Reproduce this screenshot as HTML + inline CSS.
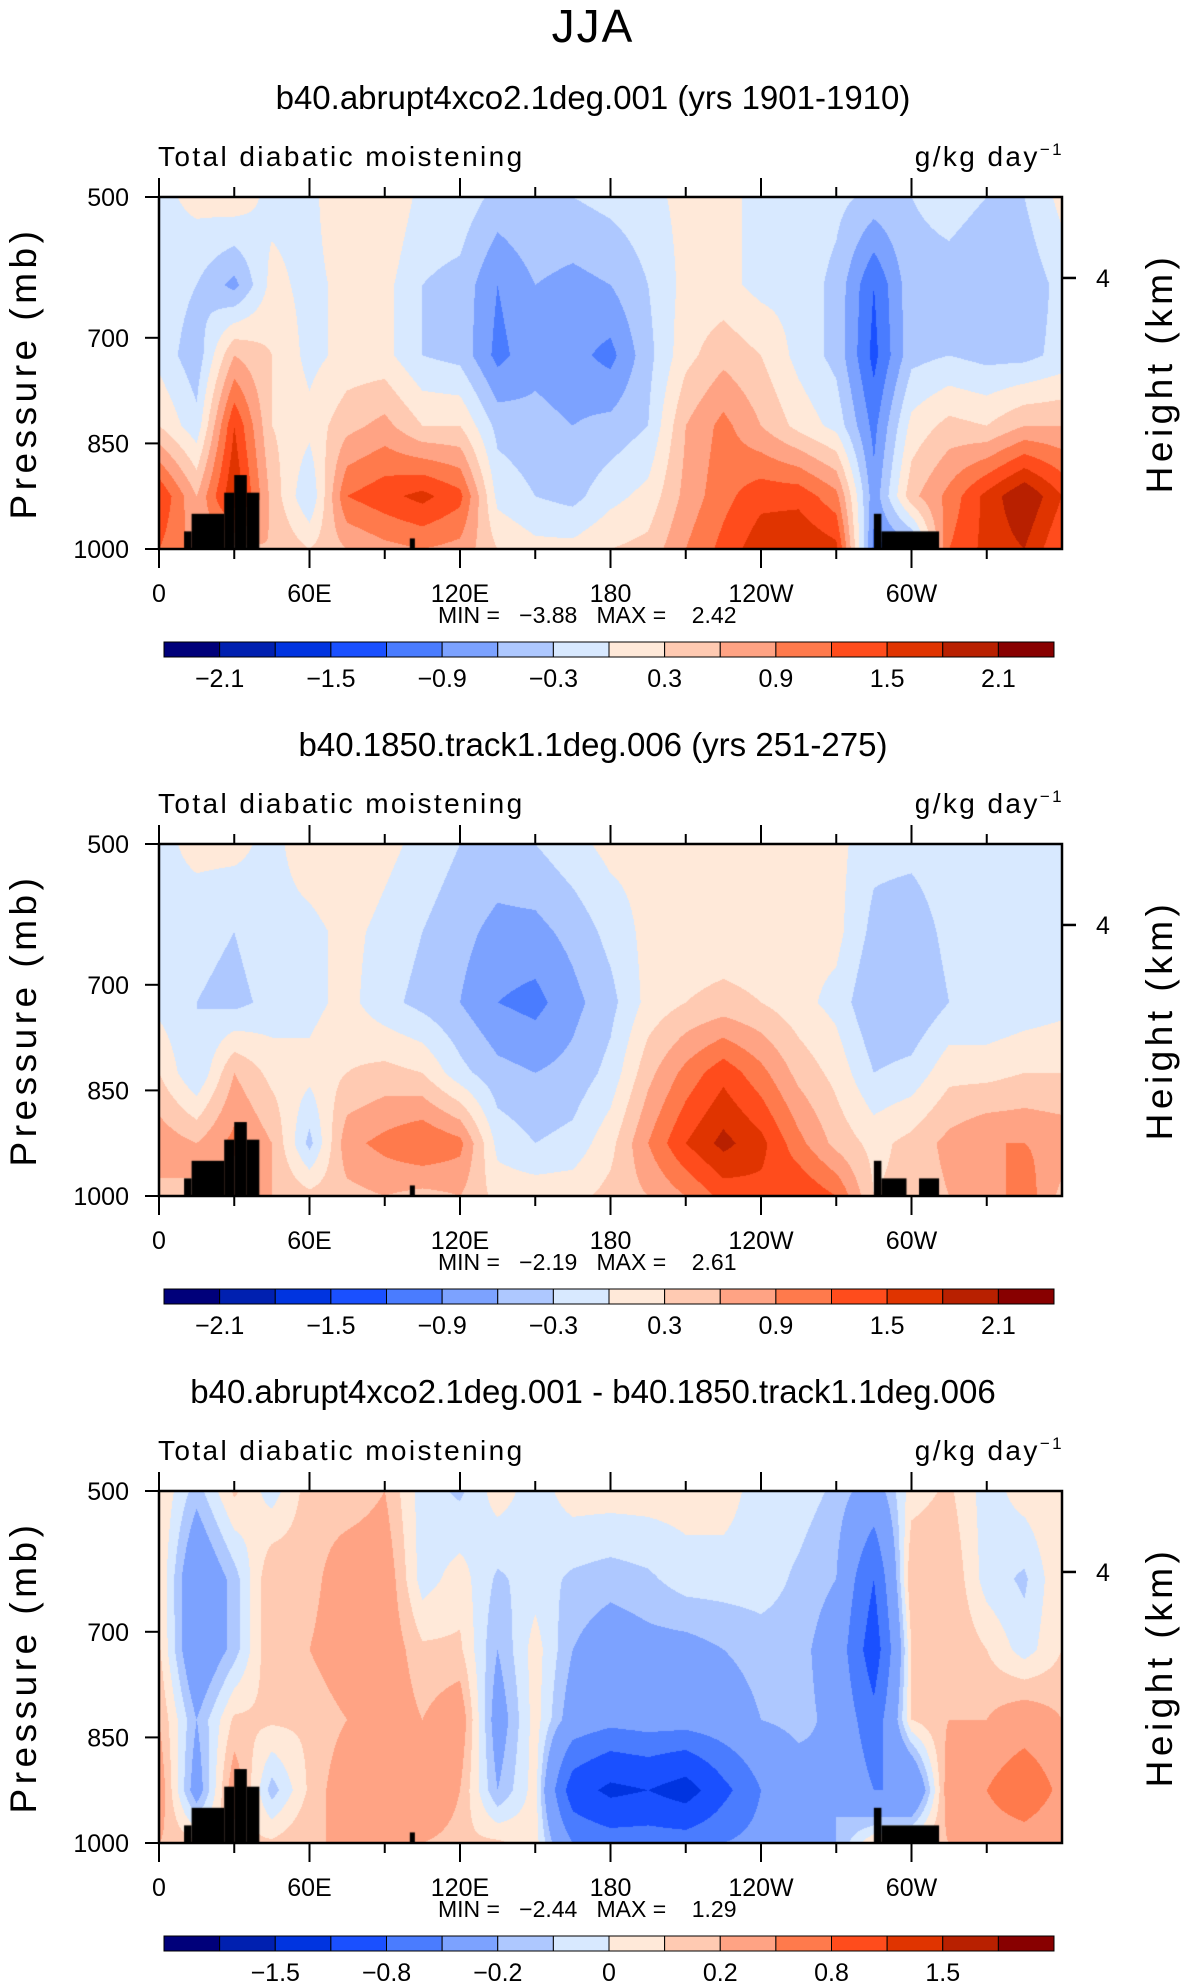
<!DOCTYPE html>
<html><head><meta charset="utf-8">
<style>
body{margin:0;background:#fff;}
#wrap{position:relative;width:1186px;height:1987px;overflow:hidden;background:#fff;font-family:"Liberation Sans",sans-serif;}
canvas{position:absolute;}
svg{position:absolute;left:0;top:0;}
</style></head>
<body>
<div id="wrap">
<svg id="svg" width="1186" height="1987"></svg>
</div>
<script>
// ---- data ----
const lons = [0,15,30,45,60,75,90,105,120,135,150,165,180,195,210,225,240,255,270,285,300,315,330,345,360];
const levels = [500,625,725,825,925,1000];
const p1 = [
[-0.1,0.1,0.2,-0.1,-0.1,0.3,0.3,-0.1,-0.1,-0.4,-0.3,-0.3,-0.2,-0.1,0.1,0.1,-0.1,-0.1,-0.2,-0.4,-0.3,-0.2,-0.3,-0.3,0.1],
[-0.1,-0.3,-0.7,0.1,-0.1,0.1,0.1,-0.3,-0.4,-0.9,-0.6,-0.7,-0.6,-0.3,0.1,0.1,-0.1,-0.1,-0.4,-1.2,-0.4,-0.4,-0.5,-0.5,-0.2],
[-0.1,-0.5,0.6,0.3,-0.1,0.1,0.1,-0.3,-0.4,-1.0,-0.7,-0.8,-1.0,-0.4,0.2,0.5,0.3,-0.1,-0.4,-1.3,-0.4,-0.3,-0.4,-0.4,-0.2],
[0.3,-0.2,1.5,0.3,0.1,0.5,0.7,0.3,0.3,-0.4,-0.5,-0.6,-0.5,-0.3,0.6,1.0,0.6,0.2,-0.1,-1.0,0.1,0.4,0.3,0.6,0.6],
[1.5,0.6,1.8,0.5,-0.3,1.2,1.4,1.6,1.3,-0.1,-0.3,-0.4,-0.1,0.1,0.7,1.1,1.4,1.4,1.0,-0.8,0.5,1.0,1.6,2.1,1.5],
[1.2,0.8,0.5,0.6,0.3,0.6,0.8,0.9,0.8,0.3,0.1,0.1,0.3,0.4,0.9,1.3,1.7,1.8,1.6,-1.0,-0.8,1.2,1.6,1.8,1.2]];
const p2 = [
[-0.1,0.1,0.1,-0.1,0.2,0.3,0.1,-0.1,-0.3,-0.4,-0.3,-0.1,0.1,0.1,0.1,0.1,0.1,0.1,0.1,-0.2,-0.2,-0.1,-0.1,-0.1,-0.1],
[-0.1,-0.2,-0.3,-0.1,-0.1,0.1,-0.1,-0.3,-0.5,-0.7,-0.7,-0.5,-0.2,0.1,0.1,0.1,0.1,0.1,0.1,-0.4,-0.5,-0.2,-0.2,-0.1,-0.1],
[-0.1,-0.3,-0.4,-0.2,-0.1,0.1,-0.2,-0.4,-0.6,-0.9,-1.0,-0.7,-0.4,0.1,0.3,0.4,0.3,0.1,-0.1,-0.6,-0.6,-0.3,-0.3,-0.2,-0.1],
[0.3,-0.3,0.6,0.2,0.1,0.3,0.4,0.3,-0.2,-0.5,-0.6,-0.5,-0.2,0.5,1.0,1.4,1.0,0.5,0.2,-0.3,-0.2,0.2,0.2,0.3,0.3],
[0.8,0.6,1.0,0.6,-0.4,0.8,1.0,1.2,1.0,-0.1,-0.3,-0.2,0.2,0.9,1.5,1.9,1.6,1.0,0.5,0.2,0.4,0.7,0.9,0.9,0.8],
[0.5,0.6,0.6,0.6,0.4,0.5,0.6,0.5,0.6,0.2,0.2,0.2,0.4,0.6,0.9,1.3,1.4,1.5,1.2,0.3,0.4,0.6,0.7,1.1,0.5]];
const p3 = [
[0.1,-0.15,0.12,-0.05,0.15,0.12,0.2,-0.05,-0.12,0.05,-0.05,0.05,0.05,0.05,0.05,0.05,-0.05,-0.05,-0.12,-0.3,0.05,0.12,-0.05,0.05,0.1],
[0.1,-0.4,-0.15,0.2,0.15,0.3,0.3,-0.05,0.05,-0.12,-0.05,-0.12,-0.15,-0.12,-0.05,-0.05,-0.05,-0.12,-0.2,-0.8,0.2,0.2,-0.05,-0.12,0.1],
[0.12,-0.4,-0.15,0.2,0.2,0.3,0.3,0.12,0.12,-0.2,0.05,-0.2,-0.3,-0.25,-0.25,-0.2,-0.15,-0.15,-0.3,-1.0,0.1,0.2,0.1,-0.05,0.1],
[0.2,-0.2,0.12,0.12,0.12,0.2,0.3,0.2,0.3,-0.3,0.05,-0.3,-0.4,-0.35,-0.35,-0.3,-0.2,-0.15,-0.25,-0.7,0.1,0.2,0.2,0.3,0.2],
[0.3,-0.3,0.3,-0.15,0.12,0.3,0.4,0.5,0.2,-0.2,0.05,-1.0,-1.3,-1.2,-1.4,-0.9,-0.5,-0.3,-0.2,-0.5,-0.5,0.3,0.5,0.8,0.4],
[0.2,0.12,0.12,0.12,0.2,0.2,0.2,0.2,0.12,0.12,0.05,-0.5,-0.6,-0.6,-0.6,-0.5,-0.4,-0.3,-0.2,0.1,0.1,0.2,0.3,0.3,0.2]];
const bounds12 = [-2.1,-1.8,-1.5,-1.2,-0.9,-0.6,-0.3,0,0.3,0.6,0.9,1.2,1.5,1.8,2.1];
const bounds3 = [-2,-1.5,-1.2,-0.8,-0.5,-0.2,-0.1,0,0.1,0.2,0.5,0.8,1.2,1.5,2];
const cbLabels12 = ["-2.1","-1.5","-0.9","-0.3","0.3","0.9","1.5","2.1"];
const cbLabelIdx12 = [0,2,4,6,8,10,12,14];
const cbLabels3 = ["-1.5","-0.8","-0.2","0","0.2","0.8","1.5"];
const cbLabelIdx3 = [1,3,5,7,9,11,13];
const titles = ["b40.abrupt4xco2.1deg.001 (yrs 1901-1910)","b40.1850.track1.1deg.006 (yrs 251-275)","b40.abrupt4xco2.1deg.001 - b40.1850.track1.1deg.006"];
const minmax = [["-3.88","2.42"],["-2.19","2.61"],["-2.44","1.29"]];
const xTickVals = [0,60,120,180,240,300];
const xTickLabels = ["0","60E","120E","180","120W","60W"];
const yTickVals = [500,700,850,1000];
const colors = ["#00007a","#0020b0","#0034e0","#1a50ff","#4a7cff","#7ca2ff","#aec8ff","#d8e9ff","#ffe9d9","#ffcab2","#ffa384","#ff7a4c","#ff4c1c","#e03400","#b82000","#880000"];
const terrain1 = [[10,13,975],[13,26,950],[26,30,920],[30,35,895],[35,40,920],[100,102,985],[285,288,950],[288,311,975]];
const terrain2 = [[10,13,975],[13,26,950],[26,30,920],[30,35,895],[35,40,920],[100,102,985],[285,288,950],[288,298,975],[303,311,975]];
const terrain3 = [[10,13,975],[13,26,950],[26,30,920],[30,35,895],[35,40,920],[100,102,985],[285,288,950],[288,311,975]];

// ---- layout ----
const L=159, R=1062, W=R-L, H=352;
const tops=[197,844,1491];
const NS="http://www.w3.org/2000/svg";
const svg=document.getElementById('svg');
function el(tag,attrs,parent,text){const e=document.createElementNS(NS,tag);for(const k in attrs)e.setAttribute(k,attrs[k]);if(text!==undefined)e.textContent=text;(parent||svg).appendChild(e);return e;}
function xs(lon){return L+lon/360*W;}
function ys(p,top){return top+(p-500)/500*H;}
function sample(grid,lon,p){
  let i=0;while(i<lons.length-2&&lon>lons[i+1])i++;
  let j=0;while(j<levels.length-2&&p>levels[j+1])j++;
  const tx=(lon-lons[i])/(lons[i+1]-lons[i]);
  const ty=Math.max(0,Math.min(1,(p-levels[j])/(levels[j+1]-levels[j])));
  const a=grid[j][i]*(1-tx)+grid[j][i+1]*tx;
  const b=grid[j+1][i]*(1-tx)+grid[j+1][i+1]*tx;
  return a*(1-ty)+b*ty;
}
function hex(c){return [parseInt(c.slice(1,3),16),parseInt(c.slice(3,5),16),parseInt(c.slice(5,7),16)];}
const rgb=colors.map(hex);
const grids=[p1,p2,p3], bnds=[bounds12,bounds12,bounds3], terr=[terrain1,terrain2,terrain3];
const wrap=document.getElementById('wrap');

for(let k=0;k<3;k++){
  const top=tops[k], bot=top+H;
  const cv=document.createElement('canvas');
  cv.width=W;cv.height=H;cv.style.left=L+'px';cv.style.top=top+'px';
  
  
  wrap.insertBefore(cv,svg);
  const ctx=cv.getContext('2d');const img=ctx.createImageData(W,H);
  const b=bnds[k];
  for(let y=0;y<H;y++){const p=500+(y+0.5)/H*500;
    for(let x=0;x<W;x++){const lon=(x+0.5)/W*360;const v=sample(grids[k],lon,p);
      let c=0;while(c<b.length&&v>=b[c]-1e-9)c++;
      const o=(y*W+x)*4;img.data[o]=rgb[c][0];img.data[o+1]=rgb[c][1];img.data[o+2]=rgb[c][2];img.data[o+3]=255;}}
  ctx.putImageData(img,0,0);
  ctx.fillStyle='#000';
  terr[k].forEach(t=>{const x0=(t[0]/360)*W,x1=(t[1]/360)*W,y0=(t[2]-500)/500*H;ctx.fillRect(x0,y0,x1-x0,H-y0);});

  const g=el('g',{});
  el('text',{x:593,y:top-88,'text-anchor':'middle','font-size':33,'font-family':'Liberation Sans',},g,titles[k]);
  el('text',{x:158,y:top-31,'font-size':28,'letter-spacing':'2.4',},g,'Total diabatic moistening');
  const u=el('text',{x:1064,y:top-31,'text-anchor':'end','font-size':28,'letter-spacing':'2.4',},g,'g/kg day');
  el('tspan',{dy:-11,'font-size':17},u,'\u22121');
  el('rect',{x:L,y:top,width:W,height:H,fill:'none',stroke:'#000','stroke-width':2.5,},g);
  for(let lon=0;lon<=330;lon+=30){const maj=lon%60===0;const x=xs(lon);const len=maj?19:10;
    el('line',{x1:x,y1:bot,x2:x,y2:bot+len,stroke:'#000','stroke-width':2},g);
    el('line',{x1:x,y1:top,x2:x,y2:top-len,stroke:'#000','stroke-width':2},g);}
  xTickVals.forEach((v,i)=>{el('text',{x:xs(v),y:bot+53,'text-anchor':'middle','font-size':25,},g,xTickLabels[i]);});
  yTickVals.forEach(v=>{const y=ys(v,top);el('line',{x1:L-14,y1:y,x2:L,y2:y,stroke:'#000','stroke-width':2},g);
    el('text',{x:L-30,y:y+9,'text-anchor':'end','font-size':25,},g,String(v));});
  const y4=ys(615,top);
  el('line',{x1:R,y1:y4,x2:R+14,y2:y4,stroke:'#000','stroke-width':2.5},g);
  el('text',{x:R+41,y:y4+9,'text-anchor':'middle','font-size':25,},g,'4');
  el('text',{transform:`translate(36,${top+H/2}) rotate(-90)`,'text-anchor':'middle','font-size':37,'letter-spacing':'4.5',},g,'Pressure (mb)');
  el('text',{transform:`translate(1172,${top+H/2}) rotate(-90)`,'text-anchor':'middle','font-size':37,'letter-spacing':'4.5',},g,'Height (km)');
  el('text',{x:438,y:bot+74,'font-size':23,style:'white-space:pre',},g,'MIN =   '+'\u2212'+minmax[k][0].slice(1)+'   MAX =    '+minmax[k][1]);
  const cbx=164,cbw=890,cby=bot+93,cbh=15,cw=cbw/16;
  const cb=el('g',{},g);
  colors.forEach((c,i)=>{el('rect',{x:cbx+i*cw,y:cby,width:cw,height:cbh,fill:c,stroke:'#000','stroke-width':1},cb);});
  const labs = k<2 ? cbLabels12 : cbLabels3;
  const idx = k<2 ? cbLabelIdx12 : cbLabelIdx3;
  idx.forEach((bi,n)=>{el('text',{x:cbx+(bi+1)*cw,y:cby+45,'text-anchor':'middle','font-size':25,},cb,labs[n].replace('-','\u2212'));});
}
el('text',{x:593,y:42,'text-anchor':'middle','font-size':46,'letter-spacing':'2',},svg,'JJA');
</script>
</body></html>
